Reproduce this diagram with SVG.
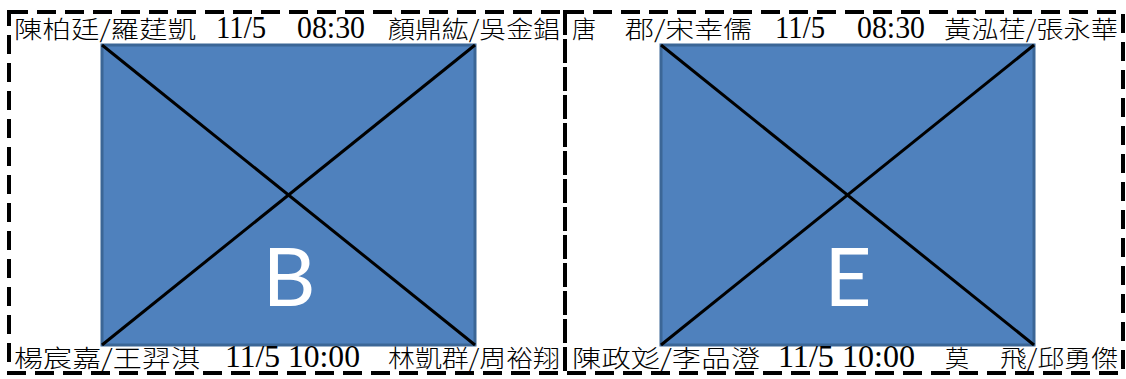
<svg xmlns="http://www.w3.org/2000/svg" width="1126" height="379" viewBox="0 0 1126 379">
<style>
.frame{fill:none;stroke:#000;stroke-width:4;stroke-dasharray:19 9}
.box{fill:#4F81BD;stroke:#3B6696;stroke-width:3}
.diag{stroke:#000;stroke-width:3}
.lbl{font-family:"Liberation Serif","Noto Sans CJK TC",serif;font-size:32px;fill:#000}
.cjk{font-family:"Noto Sans CJK TC","Noto Sans CJK SC",sans-serif;font-weight:300;font-size:24px;fill:#000}
.big{font-family:Lato,"Open Sans","Liberation Sans",sans-serif;font-size:82px;fill:#fff;text-anchor:middle}
</style>
<g id="frames">
<rect id="frame-left" class="frame" x="9" y="12" width="556" height="361"/>
<rect id="frame-right" class="frame" x="565" y="12" width="558" height="361"/>
</g>
<g id="node-B">
<rect class="box" x="102" y="45" width="373" height="300"/>
<line class="diag" x1="102" y1="45" x2="475" y2="345"/>
<line class="diag" x1="475" y1="45" x2="102" y2="345"/>
<text class="big" x="289" y="306">B</text>
</g>
<g id="node-E">
<rect class="box" x="661" y="45" width="373" height="300"/>
<line class="diag" x1="661" y1="45" x2="1034" y2="345"/>
<line class="diag" x1="1034" y1="45" x2="661" y2="345"/>
<text class="big" x="848" y="306">E</text>
</g>
<g id="labels">
<text class="cjk" x="14" y="38" textLength="182" lengthAdjust="spacingAndGlyphs">陳柏廷/羅莛凱</text>
<text class="lbl" x="216" y="38" textLength="50" lengthAdjust="spacingAndGlyphs">11/5</text>
<text class="lbl" x="297" y="38" textLength="68" lengthAdjust="spacingAndGlyphs">08:30</text>
<text class="cjk" x="388" y="38" textLength="172" lengthAdjust="spacingAndGlyphs">顏鼎紘/吳金錩</text>

<text class="cjk" x="572" y="38">唐</text>
<text class="cjk" x="625" y="38" textLength="127" lengthAdjust="spacingAndGlyphs">郡/宋幸儒</text>
<text class="lbl" x="775" y="38" textLength="50" lengthAdjust="spacingAndGlyphs">11/5</text>
<text class="lbl" x="857" y="38" textLength="68" lengthAdjust="spacingAndGlyphs">08:30</text>
<text class="cjk" x="944" y="38" textLength="174" lengthAdjust="spacingAndGlyphs">黃泓荏/張永華</text>

<text class="cjk" x="14" y="367" textLength="186" lengthAdjust="spacingAndGlyphs">楊宸嘉/王羿淇</text>
<text class="lbl" x="225" y="367" textLength="135" lengthAdjust="spacingAndGlyphs">11/5 10:00</text>
<text class="cjk" x="388" y="367" textLength="172" lengthAdjust="spacingAndGlyphs">林凱群/周裕翔</text>

<text class="cjk" x="572" y="367" textLength="188" lengthAdjust="spacingAndGlyphs">陳政彣/李品澄</text>
<text class="lbl" x="778" y="367" textLength="137" lengthAdjust="spacingAndGlyphs">11/5 10:00</text>
<text class="cjk" x="945" y="367">莫</text>
<text class="cjk" x="1000" y="367" textLength="118" lengthAdjust="spacingAndGlyphs">飛/邱勇傑</text>
</g>
</svg>
